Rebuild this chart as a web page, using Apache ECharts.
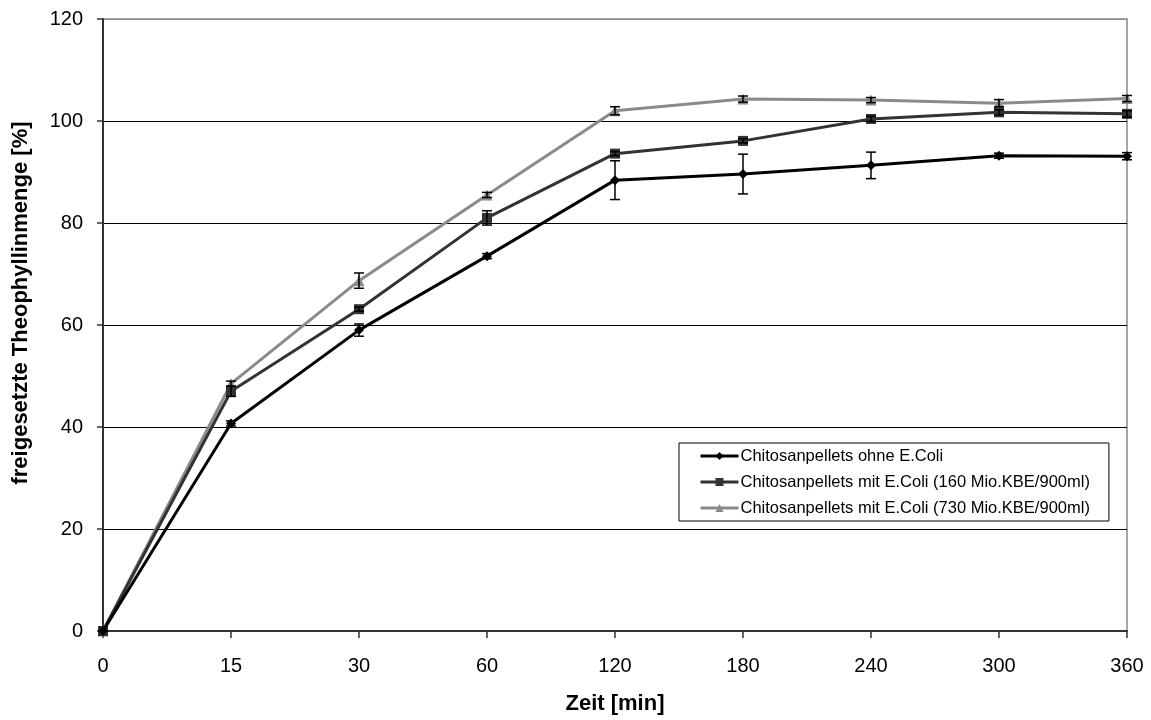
<!DOCTYPE html>
<html>
<head>
<meta charset="utf-8">
<script src="https://cdn.jsdelivr.net/npm/echarts@6/dist/echarts.min.js"></script>
<style>
html,body{margin:0;padding:0;background:#fff;}
#chart{width:1151px;height:720px;}
</style>
</head>
<body>
<div id="chart"></div>
<script>
var categories = ['0', '15', '30', '60', '120', '180', '240', '300', '360'];
var seriesNames = [
  'Chitosanpellets ohne E.Coli',
  'Chitosanpellets mit E.Coli (160 Mio.KBE/900ml)',
  'Chitosanpellets mit E.Coli (730 Mio.KBE/900ml)'
];
var valuesOhne = [0, 40.7, 59.0, 73.5, 88.4, 89.6, 91.3, 93.2, 93.1];
var errorsOhne = [0, 0.5, 1.2, 0.5, 3.8, 3.9, 2.6, 0.5, 0.7];
var values160 = [0, 47.0, 63.1, 81.0, 93.6, 96.1, 100.4, 101.7, 101.4];
var errors160 = [0, 1.0, 0.4, 1.4, 0.4, 0.4, 0.5, 0.5, 0.6];
var values730 = [0, 48.5, 68.7, 85.5, 102.0, 104.3, 104.1, 103.5, 104.4];
var errors730 = [0, 0.5, 1.5, 0.5, 0.8, 0.6, 0.5, 0.7, 0.6];
var yTicks = { min: 0, max: 120, interval: 20 };

var FONT = '"Liberation Sans", Arial, sans-serif';

function errData(vals, errs) {
  return vals.map(function (v, i) { return [i, v - errs[i], v + errs[i]]; });
}
function errSeries(vals, errs, z) {
  return {
    type: 'custom',
    z: z,
    silent: true,
    data: errData(vals, errs),
    renderItem: function (params, api) {
      var lo = api.coord([api.value(0), api.value(1)]);
      var hi = api.coord([api.value(0), api.value(2)]);
      var w = 5;
      var st = { stroke: '#000', lineWidth: 1.5 };
      return {
        type: 'group',
        children: [
          { type: 'line', shape: { x1: lo[0], y1: lo[1], x2: hi[0], y2: hi[1] }, style: st },
          { type: 'line', shape: { x1: lo[0] - w, y1: lo[1], x2: lo[0] + w, y2: lo[1] }, style: st },
          { type: 'line', shape: { x1: hi[0] - w, y1: hi[1], x2: hi[0] + w, y2: hi[1] }, style: st }
        ]
      };
    }
  };
}

var chart = echarts.init(document.getElementById('chart'));
chart.setOption({
  animation: false,
  backgroundColor: '#fff',
  textStyle: { fontFamily: FONT },
  grid: {
    left: 103, right: 24, top: 19, bottom: 88,
    show: true, borderColor: '#8a8a8a', borderWidth: 1.5, backgroundColor: 'transparent'
  },
  legend: {
    data: seriesNames,
    orient: 'vertical',
    left: 679, top: 443,
    padding: [4, 19, 4, 20],
    itemGap: 8,
    itemWidth: 38, itemHeight: 10,
    lineStyle: { width: 3 },
    backgroundColor: '#fff',
    borderColor: '#000', borderWidth: 1, borderRadius: 0,
    textStyle: { fontFamily: FONT, fontSize: 16.5, color: '#000', lineHeight: 18, padding: [0, 0, 0, -3] }
  },
  xAxis: {
    type: 'category',
    data: categories,
    boundaryGap: false,
    name: 'Zeit [min]',
    nameLocation: 'middle',
    nameGap: 62,
    nameTextStyle: { fontFamily: FONT, fontSize: 22, fontWeight: 'bold', color: '#000' },
    axisLine: { lineStyle: { color: '#333', width: 2 } },
    axisTick: { show: true, length: 7, alignWithLabel: true, lineStyle: { color: '#333', width: 1.5 } },
    axisLabel: { fontFamily: FONT, fontSize: 20, color: '#000', margin: 25 },
    splitLine: { show: false }
  },
  yAxis: {
    type: 'value',
    min: yTicks.min, max: yTicks.max, interval: yTicks.interval,
    axisLine: { show: true, lineStyle: { color: '#333', width: 2 } },
    axisTick: { show: true, length: 6, lineStyle: { color: '#333', width: 1.5 } },
    axisLabel: { fontFamily: FONT, fontSize: 20, color: '#000', margin: 20 },
    splitLine: { show: true, lineStyle: { color: ['#000', '#000', '#000', '#000', '#000', '#000', '#8a8a8a'], width: 1.2 } }
  },
  graphic: [{
    type: 'text',
    rotation: Math.PI / 2,
    x: 21, y: 303,
    style: {
      text: 'freigesetzte Theophyllinmenge [%]',
      font: 'bold 22px ' + FONT,
      fill: '#000',
      textAlign: 'center',
      textVerticalAlign: 'middle'
    }
  }],
  series: [
    {
      name: seriesNames[0], type: 'line', data: valuesOhne, z: 4,
      symbol: 'diamond', symbolSize: 10, showAllSymbol: true,
      lineStyle: { color: '#000', width: 3 },
      itemStyle: { color: '#000' }
    },
    errSeries(valuesOhne, errorsOhne, 5),
    {
      name: seriesNames[1], type: 'line', data: values160, z: 3,
      symbol: 'rect', symbolSize: 10, showAllSymbol: true,
      lineStyle: { color: '#333', width: 3 },
      itemStyle: { color: '#333' }
    },
    errSeries(values160, errors160, 5),
    {
      name: seriesNames[2], type: 'line', data: values730, z: 2,
      symbol: 'triangle', symbolSize: 11, showAllSymbol: true,
      lineStyle: { color: '#8a8a8a', width: 3 },
      itemStyle: { color: '#8a8a8a' }
    },
    errSeries(values730, errors730, 5)
  ]
});
</script>
</body>
</html>
